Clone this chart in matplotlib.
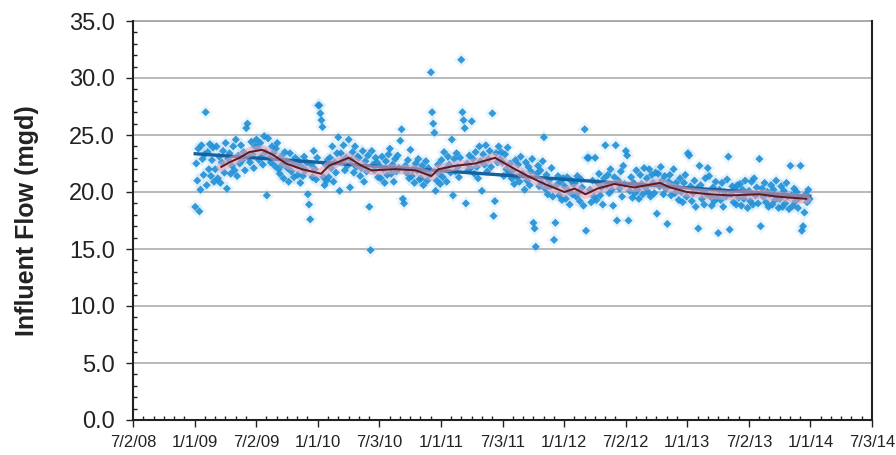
import matplotlib
matplotlib.use('Agg')
import matplotlib.pyplot as plt
import matplotlib.dates as mdates
import numpy as np
import pandas as pd
from matplotlib.ticker import MultipleLocator, FixedLocator, FuncFormatter

# ---------------- data ----------------
flow_2009 = [
    [18.7, 22.5, 21.0, 23.8, 18.3, 20.2, 24.1, 22.9, 21.5, 23.3],
    [27.0, 20.6, 23.5, 22.0, 24.2, 21.4, 22.8, 23.9, 20.9],
    [22.0, 24.0, 21.2, 23.1, 20.8, 22.6, 23.6, 21.7],
    [24.3, 20.3, 22.9, 23.4, 21.6, 22.3, 24.0, 21.9],
    [24.6, 21.4, 23.2, 22.5, 24.1, 22.8, 23.5, 21.9],
    [25.6, 26.0, 23.0, 22.6, 24.4, 23.3, 22.1, 24.0],
    [24.6, 23.9, 22.8, 24.3, 23.1, 22.4, 24.9, 23.5],
    [19.7, 24.7, 23.0, 22.6, 24.0, 23.4, 22.3, 23.8],
    [24.3, 22.0, 21.6, 23.1, 22.4, 21.2, 23.5, 22.7],
    [22.1, 20.9, 23.4, 21.8, 22.6, 21.3, 23.0, 22.4],
    [21.5, 22.7, 20.8, 22.2, 21.4, 23.1, 21.9, 22.6],
    [19.8, 18.9, 17.6, 22.4, 21.3, 23.6, 22.0, 21.1, 23.0],
]
flow_2010 = [
    [27.6, 27.6, 26.9, 26.3, 25.7, 21.3, 20.6, 22.4, 21.0, 22.8],
    [21.3, 23.0, 22.1, 24.0, 20.9, 22.6, 21.7, 23.4],
    [24.8, 20.1, 23.4, 22.7, 24.1, 21.9, 23.0, 22.3],
    [24.6, 20.4, 22.8, 23.5, 21.7, 24.0, 22.2, 23.1],
    [23.0, 21.4, 22.1, 23.6, 20.9, 22.7, 21.8, 23.2],
    [18.7, 14.9, 23.6, 22.4, 21.9, 23.0, 22.6, 21.3],
    [22.3, 21.2, 23.1, 22.0, 20.8, 22.7, 21.5, 23.3],
    [23.8, 21.6, 22.4, 20.9, 22.9, 21.8, 23.2, 22.1],
    [24.5, 25.5, 19.4, 19.0, 22.3, 21.7, 22.8, 21.2],
    [23.7, 21.4, 22.0, 20.8, 22.5, 21.9, 22.9, 21.1],
    [21.2, 22.3, 20.6, 21.8, 22.7, 21.0, 22.1, 21.5],
    [30.5, 27.0, 26.0, 25.2, 20.1, 21.0, 22.4, 21.6, 20.7],
]
flow_2011 = [
    [22.8, 21.3, 23.5, 22.0, 20.9, 23.1, 22.4, 21.7],
    [24.6, 19.7, 22.9, 21.8, 23.4, 22.2, 21.3, 23.0],
    [31.6, 27.0, 26.3, 25.6, 19.0, 22.5, 21.9, 23.2, 22.1],
    [26.2, 22.9, 21.6, 23.5, 22.2, 21.2, 24.0, 22.7],
    [20.1, 23.3, 22.4, 24.1, 21.8, 22.9, 23.6, 22.2],
    [26.9, 17.9, 19.2, 23.4, 22.6, 24.0, 22.9, 23.5],
    [22.6, 21.4, 23.3, 22.0, 23.9, 21.7, 22.5, 21.2],
    [21.9, 20.7, 22.8, 21.3, 22.4, 20.9, 23.1, 21.6],
    [21.5, 20.2, 22.6, 21.0, 22.2, 20.6, 21.8, 22.9],
    [17.3, 16.8, 15.2, 21.6, 22.3, 20.5, 21.9, 20.8, 22.7],
    [24.8, 20.3, 21.5, 19.8, 21.0, 20.5, 22.1, 19.6],
    [15.8, 17.3, 20.6, 21.4, 19.7, 20.9, 19.3, 21.2],
]
flow_2012 = [
    [20.5, 19.4, 21.3, 20.1, 18.9, 21.0, 19.8, 20.7],
    [20.8, 19.6, 21.4, 20.0, 19.2, 21.1, 20.4, 18.8],
    [25.5, 16.6, 23.0, 23.0, 20.2, 19.1, 21.0, 19.6],
    [23.0, 19.3, 20.8, 21.6, 19.7, 20.4, 18.9, 21.2],
    [24.1, 20.6, 21.5, 19.9, 22.0, 20.2, 18.8, 21.3],
    [24.1, 17.5, 21.0, 20.3, 21.8, 19.6, 22.3, 20.7],
    [23.6, 23.2, 17.5, 20.1, 21.3, 19.5, 20.8, 19.9],
    [21.9, 20.2, 19.4, 21.5, 20.7, 19.8, 22.1, 20.4],
    [21.2, 20.0, 22.0, 19.6, 21.5, 20.8, 19.9, 21.7],
    [18.1, 21.6, 20.5, 22.2, 21.0, 19.8, 21.4, 20.3],
    [17.2, 20.9, 21.5, 19.7, 20.6, 22.0, 19.9, 20.8],
    [20.4, 19.3, 21.2, 20.0, 19.1, 20.8, 21.5, 19.6],
]
flow_2013 = [
    [23.4, 23.2, 20.5, 19.2, 19.9, 21.0, 18.7, 20.3],
    [16.8, 22.3, 20.6, 19.4, 20.1, 18.9, 21.2, 19.8],
    [22.1, 21.4, 19.6, 18.8, 20.4, 19.2, 20.9, 19.5],
    [16.4, 20.2, 19.3, 20.8, 18.7, 20.0, 19.6, 21.1],
    [23.1, 16.7, 19.8, 20.5, 19.1, 20.3, 18.9, 20.6],
    [19.5, 20.7, 18.8, 20.2, 19.4, 21.0, 19.9, 18.6],
    [20.1, 19.2, 20.9, 18.9, 21.2, 19.7, 20.4, 19.0],
    [22.9, 17.0, 20.3, 19.6, 20.8, 19.1, 20.0, 18.7],
    [19.8, 20.6, 18.9, 20.2, 19.3, 21.0, 19.5, 18.6],
    [19.4, 20.5, 18.7, 20.1, 19.0, 20.8, 19.6, 18.5],
    [22.3, 19.7, 18.8, 20.3, 19.2, 20.0, 18.6, 19.5],
    [22.3, 16.6, 17.0, 18.2, 19.8, 19.1, 20.2, 19.4],
]

ma_dates = ['2009-03-21', '2009-04-14', '2009-05-14', '2009-06-12', '2009-07-20',
            '2009-08-19', '2009-09-29', '2009-11-15', '2010-01-11', '2010-02-03',
            '2010-04-03', '2010-05-11', '2010-06-10', '2010-08-20', '2010-10-18',
            '2010-12-04', '2010-12-25', '2011-02-13', '2011-04-13', '2011-06-11',
            '2011-07-28', '2011-09-16', '2011-11-05', '2012-01-03', '2012-02-02',
            '2012-03-05', '2012-04-10', '2012-05-30', '2012-07-28', '2012-10-12',
            '2012-11-11', '2012-12-31', '2013-03-09', '2013-05-07', '2013-08-03',
            '2013-09-23', '2013-12-20']
ma_values = [22.2, 22.6, 23.0, 23.5, 23.7, 23.3, 22.5, 22.0, 21.6, 22.3,
             23.0, 22.3, 21.9, 22.0, 21.9, 21.4, 22.0, 22.3, 22.5, 23.0,
             22.2, 21.4, 20.7, 20.0, 20.3, 19.8, 20.3, 20.7, 20.4, 20.8,
             20.4, 20.0, 19.8, 19.7, 19.8, 19.6, 19.4]

tick_labels = ['7/2/08', '1/1/09', '7/2/09', '1/1/10', '7/3/10', '1/1/11', '7/3/11',
               '1/1/12', '7/2/12', '1/1/13', '7/2/13', '1/1/14', '7/3/14']
x_start, x_end = '2008-07-02', '2014-07-03'
y_label = 'Influent Flow (mgd)'

FONT = ['Liberation Sans', 'DejaVu Sans']
plt.rcParams['font.family'] = FONT

# ---------------- build series ----------------
month_starts = pd.date_range('2009-01-01', periods=60, freq='MS')
all_months = flow_2009 + flow_2010 + flow_2011 + flow_2012 + flow_2013
xs, ys = [], []
for ms, vals in zip(month_starts, all_months):
    ndays = ms.days_in_month
    n = len(vals)
    for i, v in enumerate(vals):
        xs.append(ms + pd.Timedelta(days=(i + 0.5) * ndays / n))
        ys.append(v)
xnum = mdates.date2num(pd.to_datetime(xs))
ys = np.array(ys)

# ---------------- figure ----------------
fig = plt.figure(figsize=(8.96, 4.55), dpi=100)
ax = fig.add_axes([133 / 896, 35 / 455, 739 / 896, 399 / 455])

# soft halo (scan blur look) then the diamonds
ax.scatter(xnum, ys, marker='D', s=60, color='#8cc8f0', edgecolors='none',
           alpha=0.18, zorder=2)
ax.scatter(xnum, ys, marker='D', s=17, color='#1f8fd6', edgecolors='none',
           alpha=0.9, zorder=3)

# linear trendline
coef = np.polyfit(xnum, ys, 1)
tx = np.array([xnum.min(), xnum.max()])
ax.plot(tx, np.polyval(coef, tx), color='#14619f', lw=2.4, zorder=4)

# moving average with pink glow
man = mdates.date2num(pd.to_datetime(ma_dates))
ax.plot(man, ma_values, color='#e9a0b4', lw=7, alpha=0.55, zorder=5,
        solid_capstyle='round')
ax.plot(man, ma_values, color='#5e1a1e', lw=1.4, zorder=6)

# axes
x0 = mdates.date2num(pd.Timestamp(x_start))
x1 = mdates.date2num(pd.Timestamp(x_end))
ax.set_xlim(x0, x1)
ax.set_ylim(0, 35)
ticks = np.linspace(x0, x1, len(tick_labels))
ax.xaxis.set_major_locator(FixedLocator(ticks))
ax.set_xticklabels(tick_labels)
minor = np.linspace(x0, x1, (len(tick_labels) - 1) * 6 + 1)
ax.xaxis.set_minor_locator(FixedLocator(minor))

ax.yaxis.set_major_locator(MultipleLocator(5))
ax.yaxis.set_minor_locator(MultipleLocator(1))
ax.yaxis.set_major_formatter(FuncFormatter(lambda v, p: f'{v:.1f}'))

ax.grid(axis='y', which='major', color='#a6a6a6', lw=1.1, zorder=0)
ax.axhline(35, color='#a6a6a6', lw=1.3, zorder=0, clip_on=False)
ax.set_axisbelow(True)

for s in ['left', 'right', 'bottom']:
    ax.spines[s].set_color('#222222')
    ax.spines[s].set_linewidth(1.5)
ax.spines['top'].set_visible(False)

ax.tick_params(axis='y', which='major', direction='out', length=5, width=1,
               labelsize=17, colors='#222222', pad=8)
ax.tick_params(axis='y', which='minor', direction='in', length=3, width=1,
               colors='#222222')
ax.tick_params(axis='x', which='major', direction='out', length=5, width=1,
               labelsize=12, colors='#222222', pad=6)
ax.tick_params(axis='x', which='minor', direction='in', length=3, width=1,
               colors='#222222')

ax.set_ylabel(y_label, fontsize=18, fontweight='bold', color='#222222',
              labelpad=22)

fig.savefig('out.png', dpi=100)
